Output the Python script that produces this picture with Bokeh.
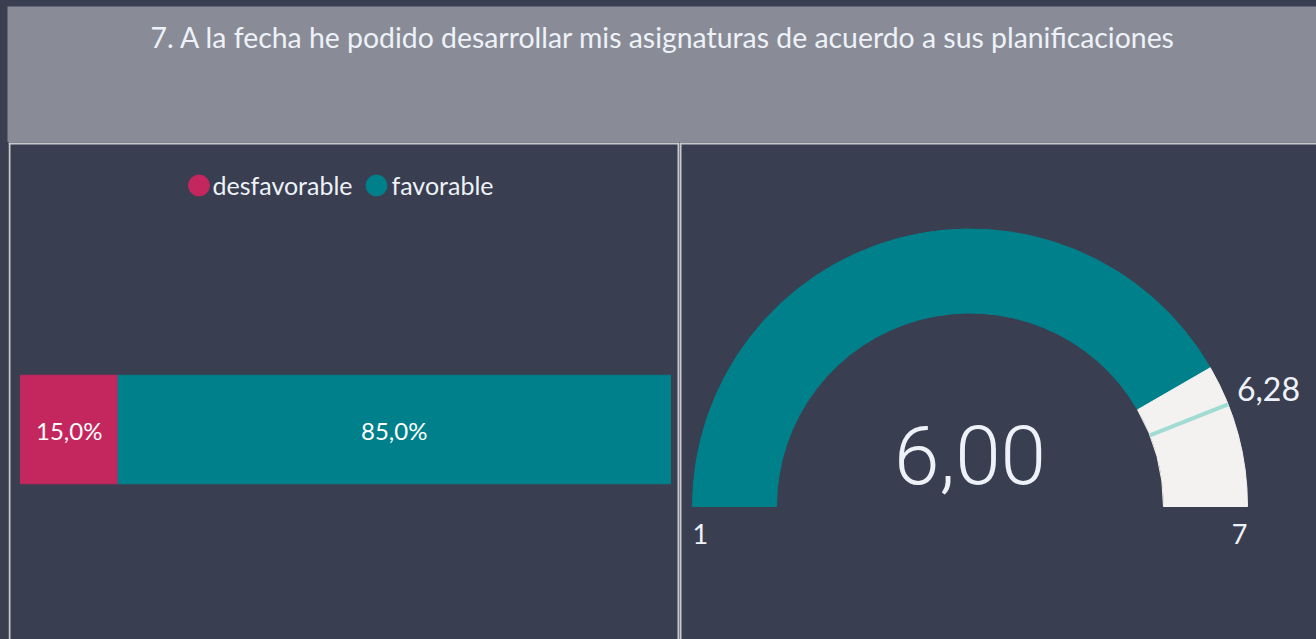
import math
from bokeh.plotting import figure
from bokeh.layouts import column, row
from bokeh.models import Range1d, Span, Label, ColumnDataSource
from bokeh.core.properties import value
from bokeh.embed import file_html
from bokeh.resources import INLINE

# ---------------- data ----------------
TITLE = "7. A la fecha he podido desarrollar mis asignaturas de acuerdo a sus planificaciones"
categories = ["desfavorable", "favorable"]
shares = [15.0, 85.0]
gauge_min = 1
gauge_max = 7
gauge_value = 6.00
gauge_target = 6.28

# ---------------- style ----------------
BG = "#393e50"
TITLE_BG = "#898c97"
BORDER = "#c8c9cc"
PINK = "#c4265e"
TEAL = "#00808a"
LIGHT = "#f3f2f0"
TARGET = "#a0dcd4"
TXT = "#eef2f8"
FONT = "Lato"
BIG_FONT = "Roboto Light, Lato Light, Lato"
colors = [PINK, TEAL]


def fmt(v, suffix=""):
    return f"{v:.1f}".replace(".", ",") + suffix


def base_fig(w, h, xr, yr, bg, **borders):
    f = figure(width=w, height=h, x_range=xr, y_range=yr, output_backend="svg",
               toolbar_location=None, min_border=0, tools="", **borders)
    f.axis.visible = False
    f.grid.visible = False
    f.outline_line_color = None
    f.background_fill_color = bg
    f.border_fill_color = BG
    return f


# ---------------- title panel ----------------
TW, TH = 1316, 142
pt = base_fig(TW, TH, Range1d(7, TW), Range1d(TH, 6), TITLE_BG,
              min_border_left=7, min_border_top=6)
pt.add_layout(Label(x=663, y=36, text=TITLE, text_align="center",
                    text_baseline="alphabetic", text_font=FONT,
                    text_font_size="28.4px", text_color=TXT))

# ---------------- left panel: 100% stacked bar ----------------
LW, LH = 679, 497
px_per_pct = 6.5
bar_px = 108.5
xr = Range1d((8 - 20) / px_per_pct, (LW - 20) / px_per_pct)
yr = Range1d(-(639 - 429) / bar_px, (429 - 142) / bar_px)
pl = base_fig(LW, LH, xr, yr, BG, min_border_left=8)

lefts, rights, acc = [], [], 0.0
for s in shares:
    lefts.append(acc)
    acc += s
    rights.append(acc)
src = ColumnDataSource(dict(cat=categories, left=lefts, right=rights,
                            mid=[(a + b) / 2 for a, b in zip(lefts, rights)],
                            y=[0, 0], color=colors,
                            label=[fmt(s, "%") for s in shares]))
pl.hbar(y="y", left="left", right="right", height=1, color="color", source=src)
pl.text(x="mid", y="y", text="label", source=src, text_align="center",
        text_baseline="middle", text_font=value(FONT), text_font_size="24px",
        text_color="#ffffff", y_offset=1)

# legend (manual, top centre)
leg_y = (429 - 185) / bar_px
leg_marker_px = [198.5, 376]
leg_text_px = [212, 391]
for cat, col, mx, tx in zip(categories, colors, leg_marker_px, leg_text_px):
    pl.scatter(x=[(mx - 20) / px_per_pct], y=[leg_y], size=21, color=col)
    pl.add_layout(Label(x=(tx - 20) / px_per_pct, y=leg_y, text=cat,
                        text_align="left", text_baseline="middle",
                        text_font=FONT, text_font_size="25px",
                        text_color=TXT, y_offset=1))

pl.add_layout(Span(location=xr.start + 1 / px_per_pct, dimension="height",
                   line_color=BORDER, line_width=2))
pl.add_layout(Span(location=xr.end, dimension="height", line_color=BORDER, line_width=4))
pl.add_layout(Span(location=yr.end, dimension="width", line_color=BORDER, line_width=4))

# ---------------- right panel: gauge ----------------
RW, RH = 637, 497
R = 277.5
cx_px, cy_px = 969.5 - 679, 506 - 142
gxr = Range1d(-cx_px / R, (RW - cx_px) / R)
gyr = Range1d(-(RH - cy_px) / R, cy_px / R)
pr = base_fig(RW, RH, gxr, gyr, BG)

r_out, r_in = 1.0, 193.5 / R


def ang(v):
    return math.pi * (1 - (v - gauge_min) / (gauge_max - gauge_min))


a_val = ang(gauge_value)
a_tgt = ang(gauge_target)
pr.annular_wedge(x=[0, 0], y=[0, 0], inner_radius=r_in, outer_radius=r_out,
                 start_angle=[a_val, 0], end_angle=[math.pi, a_val],
                 color=[TEAL, LIGHT], direction="anticlock")
pr.segment(x0=[r_in * math.cos(a_tgt)], y0=[r_in * math.sin(a_tgt)],
           x1=[r_out * math.cos(a_tgt)], y1=[r_out * math.sin(a_tgt)],
           line_color=TARGET, line_width=4)

pr.add_layout(Label(x=0, y=52 / R, text=f"{gauge_value:.2f}".replace(".", ","),
                    text_align="center", text_baseline="alphabetic",
                    text_font=BIG_FONT, text_font_size="82px", text_color=TXT))
pr.add_layout(Label(x=-r_out, y=-27 / R, text=str(gauge_min), text_align="left",
                    text_baseline="alphabetic", text_font=FONT,
                    text_font_size="27px", text_color=TXT))
pr.add_layout(Label(x=r_out, y=-27 / R, text=str(gauge_max), text_align="right",
                    text_baseline="alphabetic", text_font=FONT,
                    text_font_size="27px", text_color=TXT))
pr.add_layout(Label(x=r_out * math.cos(a_tgt), y=r_out * math.sin(a_tgt),
                    text=f"{gauge_target:.2f}".replace(".", ","), text_align="left",
                    text_baseline="alphabetic", text_font=FONT,
                    text_font_size="32px", text_color=TXT, x_offset=9, y_offset=15))

pr.add_layout(Span(location=gxr.start, dimension="height", line_color=BORDER, line_width=4))
pr.add_layout(Span(location=gyr.end, dimension="width", line_color=BORDER, line_width=4))

layout = column(pt, row(pl, pr, spacing=0), spacing=0)
layout.styles = {"background-color": BG}

html = file_html(layout, INLINE)
html = html.replace("<head>", "<head><style>html,body{background:%s;}</style>" % BG, 1)
open("out.html", "w").write(html)
